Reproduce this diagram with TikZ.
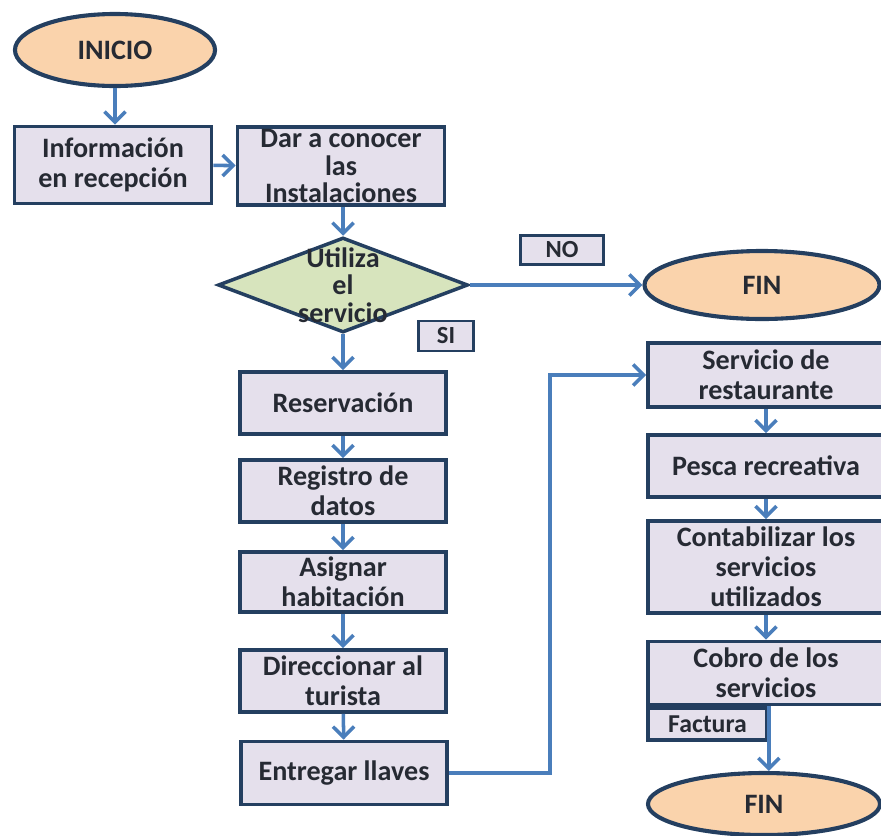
\documentclass[tikz,border=0pt]{standalone}
\usepackage{fontspec}
\setmainfont{Carlito}
\usepackage{xcolor}
\definecolor{fcnavy}{HTML}{243F60}
\definecolor{fcblue}{HTML}{4A7EBB}
\definecolor{fcpeach}{HTML}{FAD3AC}
\definecolor{fclilac}{HTML}{E5E0EC}
\definecolor{fcgreen}{HTML}{D7E4BD}
\definecolor{fctext}{HTML}{262A33}
\usepackage{tikz}
\usetikzlibrary{arrows.meta,shapes.geometric}

\begin{document}
\begin{tikzpicture}[x=0.03cm,y=-0.03cm,font=\bfseries\fontsize{24}{25.5}\selectfont,text=fctext]
            \tikzstyle{term}=[ellipse,draw=fcnavy,fill=fcpeach,line width=3.5pt,inner sep=0pt]
            \tikzstyle{proc}=[rectangle,draw=fcnavy,fill=fclilac,line width=3.2pt,align=center,inner sep=0pt,minimum width=6.18cm]
            \tikzstyle{tag}=[rectangle,draw=fcnavy,fill=fclilac,line width=2.5pt,inner sep=0pt,font=\bfseries\fontsize{21}{22}\selectfont]
            \tikzstyle{flow}=[draw=fcblue,line width=3pt,-{Straight Barb[length=9pt,width=18pt,line width=3pt]}]

            \useasboundingbox (0,0) rectangle (881,835);

            % left column
            \node[term,minimum width=6cm,minimum height=2.16cm] (inicio) at (115,50) {INICIO};
            \node[proc,minimum width=5.91cm,minimum height=2.31cm] (info) at (113,165) {Información\\en recepción};
            \node[proc,minimum width=6.21cm,minimum height=2.34cm,font=\bfseries\fontsize{24}{23.5}\selectfont] (conocer) at (341,166) {Dar a conocer\\las\\Instalaciones};
            \node[diamond,draw=fcnavy,fill=fcgreen,line width=3pt,minimum width=7.5cm,minimum height=2.85cm,inner sep=0pt] (usa) at (343,285) {};
            \node[align=center,font=\bfseries\fontsize{24}{23.5}\selectfont] (usatxt) at (usa) {Utiliza\\el\\servicio};
            \node[tag,minimum width=2.49cm,minimum height=0.87cm] (no) at (562,250) {NO};
            \node[term,minimum width=7.05cm,minimum height=2.04cm] (fin) at (762,285) {FIN};
            \node[tag,minimum width=1.65cm,minimum height=0.9cm] (si) at (446,336) {SI};

            \node[proc,minimum height=1.86cm] (reserva) at (343,403) {Reservación};
            \node[proc,minimum height=1.86cm] (registro) at (343,491) {Registro de\\datos};
            \node[proc,minimum height=1.8cm] (asigna) at (343,582) {Asignar\\habitación};
            \node[proc,minimum height=1.86cm] (direcc) at (343,681) {Direccionar al\\turista};
            \node[proc,minimum height=1.89cm] (llaves) at (344,773) {Entregar llaves};

            % right column
            \node[proc,minimum width=7.08cm,minimum height=1.92cm] (restau) at (766,375) {Servicio de\\restaurante};
            \node[proc,minimum width=7.08cm,minimum height=1.86cm] (pesca) at (766,466) {Pesca recreativa};
            \node[proc,minimum width=7.08cm,minimum height=2.76cm] (conta) at (766,567) {Contabilizar los\\servicios\\utilizados};
            \node[proc,minimum width=7.08cm,minimum height=1.89cm] (cobro) at (766,673) {Cobro de los\\servicios};
            \node[proc,anchor=north west,minimum width=3.57cm,minimum height=0.96cm,font=\bfseries\fontsize{22}{22}\selectfont] (factura) at (cobro.south west) {Factura};
            \node[term,minimum width=6.96cm,minimum height=1.86cm] (fin2) at (764,804) {FIN};

            \draw[flow] (inicio.south) -- (inicio.south |- info.north);
            \draw[flow] (info) -- (conocer);
            \draw[flow] (usa.north |- conocer.south) -- (usa.north);
            \draw[flow] (usa.east) -- (fin.west);
            \draw[flow] (usa.south) -- (reserva.north);
            \foreach \a/\b in {reserva/registro,registro/asigna,asigna/direcc,direcc/llaves}
                \draw[flow] (\a) -- (\b);
            \draw[flow] (llaves.east) -- ++(101,0) |- (restau.west);
            \foreach \a/\b in {restau/pesca,pesca/conta,conta/cobro}
                \draw[flow] (\a) -- (\b);
            \draw[flow] (factura.north east) -- (factura.north east |- fin2.north);
        \end{tikzpicture}
\end{document}
